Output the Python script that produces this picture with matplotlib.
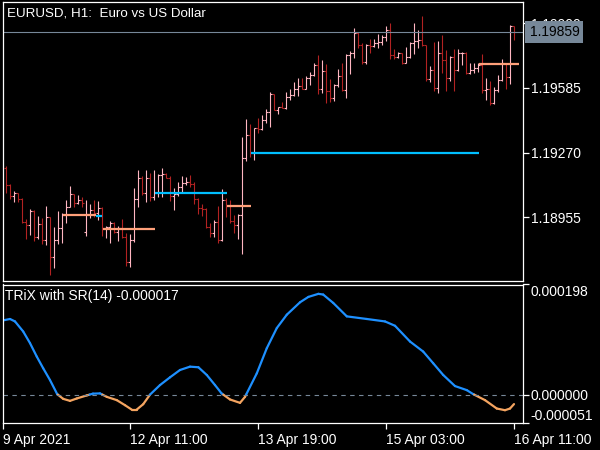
import numpy as np
import matplotlib
matplotlib.use("Agg")
import matplotlib.pyplot as plt
from matplotlib.collections import LineCollection

# EURUSD H1 bars, index 0 = 9 Apr 04:00 ... 127 = 16 Apr 11:00
opens = [1.19195, 1.19112, 1.19059, 1.19075, 1.19042, 1.18932, 1.18917, 1.18987, 1.18859, 1.18922,
         1.18844, 1.18955, 1.18760, 1.18844, 1.18901, 1.18966, 1.19003, 1.19068, 1.19023, 1.19039,
         1.18883, 1.18971, 1.18990, 1.18974, 1.19000, 1.18901, 1.18905, 1.18925, 1.18884, 1.18901,
         1.18857, 1.18738, 1.18844, 1.19042, 1.19146, 1.19072, 1.19145, 1.19055, 1.19075, 1.19161,
         1.19168, 1.19145, 1.19059, 1.19068, 1.19101, 1.19123, 1.19128, 1.19119, 1.19042, 1.18999,
         1.18994, 1.18906, 1.18880, 1.18933, 1.18844, 1.19039, 1.19010, 1.18938, 1.18917, 1.18966,
         1.19242, 1.19356, 1.19270, 1.19389, 1.19384, 1.19429, 1.19469, 1.19556, 1.19478, 1.19491,
         1.19488, 1.19540, 1.19551, 1.19579, 1.19595, 1.19579, 1.19632, 1.19648, 1.19697, 1.19579,
         1.19669, 1.19572, 1.19535, 1.19600, 1.19644, 1.19575, 1.19746, 1.19756, 1.19855, 1.19795,
         1.19713, 1.19795, 1.19790, 1.19803, 1.19811, 1.19835, 1.19868, 1.19746, 1.19736, 1.19757,
         1.19708, 1.19738, 1.19806, 1.19814, 1.19819, 1.19795, 1.19627, 1.19673, 1.19584, 1.19757,
         1.19722, 1.19632, 1.19738, 1.19673, 1.19754, 1.19757, 1.19660, 1.19673, 1.19681, 1.19697,
         1.19575, 1.19579, 1.19510, 1.19575, 1.19624, 1.19705, 1.19640, 1.19887]
highs = [1.19205, 1.19115, 1.19084, 1.19075, 1.19049, 1.18946, 1.18995, 1.18990, 1.18961, 1.18950,
         1.19010, 1.18958, 1.18906, 1.18985, 1.18976, 1.19039, 1.19107, 1.19068, 1.19063, 1.19052,
         1.19039, 1.19020, 1.19039, 1.19034, 1.19005, 1.18910, 1.18938, 1.18933, 1.18912, 1.18946,
         1.18880, 1.18873, 1.19096, 1.19185, 1.19156, 1.19185, 1.19172, 1.19185, 1.19166, 1.19194,
         1.19172, 1.19156, 1.19096, 1.19125, 1.19156, 1.19150, 1.19161, 1.19125, 1.19047, 1.19020,
         1.18999, 1.18925, 1.18942, 1.19010, 1.19091, 1.19047, 1.19039, 1.18966, 1.18971, 1.19348,
         1.19434, 1.19409, 1.19389, 1.19437, 1.19453, 1.19481, 1.19567, 1.19556, 1.19494, 1.19518,
         1.19567, 1.19579, 1.19616, 1.19632, 1.19632, 1.19644, 1.19664, 1.19705, 1.19746, 1.19722,
         1.19702, 1.19627, 1.19605, 1.19676, 1.19708, 1.19751, 1.19767, 1.19876, 1.19859, 1.19803,
         1.19800, 1.19822, 1.19822, 1.19848, 1.19843, 1.19887, 1.19900, 1.19774, 1.19762, 1.19757,
         1.19783, 1.19808, 1.19903, 1.19868, 1.19936, 1.19795, 1.19692, 1.19811, 1.19816, 1.19843,
         1.19770, 1.19741, 1.19774, 1.19774, 1.19762, 1.19762, 1.19708, 1.19705, 1.19705, 1.19751,
         1.19632, 1.19621, 1.19588, 1.19648, 1.19725, 1.19708, 1.19892, 1.19887]
lows = [1.19075, 1.19044, 1.19029, 1.19031, 1.18928, 1.18849, 1.18868, 1.18841, 1.18847, 1.18825,
        1.18820, 1.18673, 1.18706, 1.18825, 1.18828, 1.18928, 1.19003, 1.19006, 1.19020, 1.19003,
        1.18864, 1.18950, 1.18958, 1.18942, 1.18864, 1.18855, 1.18828, 1.18877, 1.18841, 1.18852,
        1.18719, 1.18714, 1.18836, 1.19006, 1.19063, 1.19031, 1.19036, 1.19039, 1.19055, 1.19055,
        1.19145, 1.19036, 1.18990, 1.19060, 1.19075, 1.19112, 1.19104, 1.19020, 1.18971, 1.18961,
        1.18901, 1.18860, 1.18860, 1.18831, 1.18841, 1.18955, 1.18928, 1.18880, 1.18847, 1.18776,
        1.19231, 1.19250, 1.19234, 1.19364, 1.19380, 1.19416, 1.19393, 1.19478, 1.19458, 1.19485,
        1.19480, 1.19527, 1.19546, 1.19546, 1.19579, 1.19579, 1.19600, 1.19644, 1.19556, 1.19559,
        1.19513, 1.19518, 1.19523, 1.19588, 1.19572, 1.19535, 1.19653, 1.19730, 1.19779, 1.19702,
        1.19702, 1.19757, 1.19786, 1.19779, 1.19795, 1.19816, 1.19725, 1.19725, 1.19730, 1.19702,
        1.19705, 1.19730, 1.19751, 1.19779, 1.19790, 1.19621, 1.19616, 1.19572, 1.19562, 1.19657,
        1.19572, 1.19621, 1.19572, 1.19669, 1.19697, 1.19653, 1.19653, 1.19660, 1.19664, 1.19562,
        1.19527, 1.19502, 1.19505, 1.19567, 1.19621, 1.19579, 1.19605, 1.19819]
closes = [1.19112, 1.19059, 1.19075, 1.19042, 1.18932, 1.18917, 1.18987, 1.18859, 1.18922, 1.18844,
          1.18955, 1.18760, 1.18844, 1.18901, 1.18966, 1.19003, 1.19068, 1.19023, 1.19039, 1.19026,
          1.18971, 1.18990, 1.18974, 1.19000, 1.18901, 1.18905, 1.18925, 1.18884, 1.18901, 1.18857,
          1.18738, 1.18844, 1.19042, 1.19146, 1.19072, 1.19145, 1.19055, 1.19075, 1.19161, 1.19168,
          1.19145, 1.19059, 1.19068, 1.19101, 1.19123, 1.19128, 1.19119, 1.19042, 1.18999, 1.18994,
          1.18906, 1.18880, 1.18933, 1.18844, 1.19039, 1.19010, 1.18938, 1.18917, 1.18966, 1.19242,
          1.19356, 1.19270, 1.19389, 1.19384, 1.19429, 1.19469, 1.19556, 1.19478, 1.19491, 1.19488,
          1.19540, 1.19551, 1.19579, 1.19595, 1.19579, 1.19632, 1.19648, 1.19697, 1.19579, 1.19669,
          1.19572, 1.19535, 1.19600, 1.19644, 1.19575, 1.19746, 1.19756, 1.19855, 1.19795, 1.19713,
          1.19795, 1.19790, 1.19803, 1.19811, 1.19835, 1.19868, 1.19746, 1.19736, 1.19757, 1.19708,
          1.19738, 1.19806, 1.19814, 1.19819, 1.19795, 1.19627, 1.19673, 1.19584, 1.19757, 1.19722,
          1.19632, 1.19738, 1.19673, 1.19754, 1.19757, 1.19660, 1.19673, 1.19681, 1.19697, 1.19575,
          1.19579, 1.19510, 1.19575, 1.19624, 1.19705, 1.19640, 1.19887, 1.19859]

# support / resistance levels
level_from = [14.25, 22.5, 24.25, 37.25, 55.25, 61.25, 118.25]
level_to = [22.5, 24.0, 37.25, 55.25, 61.25, 118.25, 128.25]
level_price = [1.18967, 1.18962, 1.18899, 1.19075, 1.19011, 1.19270, 1.19700]
level_kind = ['res', 'sup', 'res', 'sup', 'res', 'sup', 'res']

# TRIX readings (bar position, value in 1e-6)
trix_x = [-0.8, 1, 2.25, 4.3, 6, 7.7, 9.3, 11, 12.8, 14.3, 16, 17.7, 20.2, 21.75, 23.5, 25.2,
          27.7, 29.75, 31.4, 32.7, 34.3, 36, 38.5, 41, 43.5, 46, 48.1, 50.2, 52.25, 53.9, 56,
          58.5, 59.75, 62.7, 65.2, 67.7, 70.2, 73.5, 75.6, 78.1, 79.3, 81.8, 85.2, 90.2, 94.75,
          97.25, 101, 104.3, 106.8, 109.3, 112.25, 115.2, 116.8, 119.75, 122.7, 124.75, 126, 127]
trix_v = [133.4, 136.0, 131.6, 113.5, 92.6, 68.3, 47.4, 26.2, 0.9, -7.6, -11.2, -6.9, -1.4, 1.8,
          2.2, -4.0, -9.9, -19.0, -26.8, -26.8, -17.2, 0.0, 17.2, 31.1, 44.3, 50.3, 49.2, 35.3,
          17.2, 2.2, -8.7, -14.8, -4.0, 38.3, 83.5, 119.7, 143.7, 166.0, 175.7, 181.2, 179.9,
          164.9, 140.7, 136.0, 131.6, 123.8, 95.5, 77.4, 56.4, 35.3, 15.4, 8.1, 0.9, -9.9, -25.0,
          -28.0, -25.0, -17.0]

date_ticks = [-0.75, 31, 63, 95, 127]
date_labels = ['9 Apr 2021', '12 Apr 11:00', '13 Apr 19:00', '15 Apr 03:00', '16 Apr 11:00']
price_ticks = [1.18955, 1.19270, 1.19585, 1.19900]
trix_ticks = [-0.000051, 0.0, 0.000198]
bid = 1.19859

plt.rcParams['font.family'] = ['Liberation Sans', 'DejaVu Sans']
fig = plt.figure(figsize=(6, 4.5), dpi=100, facecolor='black')
W, H = 600.0, 450.0


def rect(l, t, r, b):
    return [l / W, 1 - b / H, (r - l) / W, (b - t) / H]


ax = fig.add_axes(rect(3, 2, 522.5, 281))
ax2 = fig.add_axes(rect(3, 284.5, 522.5, 423))

for a in (ax, ax2):
    a.set_facecolor('black')
    for s in a.spines.values():
        s.set_color('white')
        s.set_linewidth(0.9)
    a.set_xlim(-0.75, 129.125)
    a.yaxis.tick_right()
    a.tick_params(axis='y', colors='white', length=4, width=0.9, pad=2, labelsize=10)

# price bars
idx = np.arange(len(closes))
o, h, l, c = map(np.array, (opens, highs, lows, closes))
cols = np.where(c >= o, '#FFB6C1', '#B22222')
ax.vlines(idx, l, h, colors=cols, lw=0.8)
ax.hlines(o, idx - 0.4, idx, colors=cols, lw=0.8)
ax.hlines(c, idx, idx + 0.4, colors=cols, lw=0.8)

lvl_col = {'res': '#FFA07A', 'sup': '#00BFFF'}
for x0, x1, p, k in zip(level_from, level_to, level_price, level_kind):
    ax.hlines(p, x0, x1, colors=lvl_col[k], lw=1.6)

ax.axhline(bid, color='#778899', lw=0.8)
ax.set_ylim(1.18644, 1.20004)
ax.set_yticks(price_ticks)
ax.set_yticklabels(['%.5f' % p for p in price_ticks])
ax.tick_params(axis='x', bottom=False, labelbottom=False)
ax.text(1.0135, bid, '%.5f' % bid, transform=ax.get_yaxis_transform(), color='black',
        fontsize=10, ha='left', va='center', clip_on=False,
        bbox=dict(boxstyle='square,pad=0.3', fc='#778899', ec='none'))

fig.text(7 / W, 1 - 13 / H, 'EURUSD, H1:  Euro vs US Dollar', color='white',
         fontsize=9.6, va='center', ha='left')

# TRIX panel
tx = np.array(trix_x)
tv = np.array(trix_v) * 1e-6
segs, scol = [], []
for i in range(len(tx) - 1):
    x0, x1, v0, v1 = tx[i], tx[i + 1], tv[i], tv[i + 1]
    if v0 * v1 < 0:
        xc = x0 + (x1 - x0) * v0 / (v0 - v1)
        parts = [[(x0, v0), (xc, 0.0)], [(xc, 0.0), (x1, v1)]]
    else:
        parts = [[(x0, v0), (x1, v1)]]
    for p in parts:
        segs.append(p)
        scol.append('#1E90FF' if p[0][1] + p[1][1] >= 0 else '#F4A460')
ax2.add_collection(LineCollection(segs, colors=scol, linewidths=1.6, capstyle='round'))
ax2.axhline(0, color='#778899', lw=0.8, ls=(0, (4, 4)))
ax2.set_ylim(-0.000051, 0.000198)
ax2.set_yticks(trix_ticks)
ax2.set_yticklabels(['%.6f' % v for v in trix_ticks])
tl = ax2.get_yticklabels()
tl[0].set_va('bottom')
tl[2].set_va('top')

ax2.set_xticks(date_ticks)
ax2.set_xticklabels(date_labels)
ax2.tick_params(axis='x', colors='white', length=4, width=0.9, pad=3, labelsize=10)
for lb in ax2.get_xticklabels():
    lb.set_ha('left')

fig.text(5 / W, 1 - 296 / H, 'TRiX with SR(14) -0.000017', color='white',
         fontsize=10, va='center', ha='left')

fig.savefig('out.png', dpi=100, facecolor='black')
